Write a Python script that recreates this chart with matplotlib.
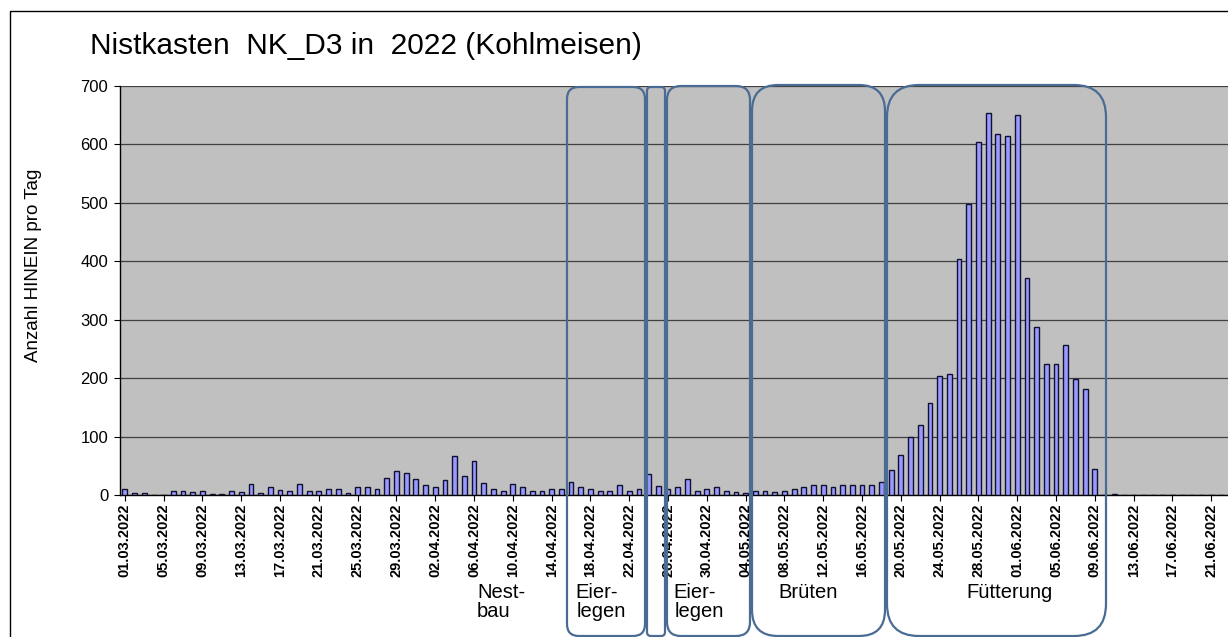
import matplotlib.pyplot as plt
from matplotlib.patches import FancyBboxPatch, Rectangle
import numpy as np
import pandas as pd

# daily counts "HINEIN" from 01.03.2022 on
values = [11, 4, 4, 0, 0, 6, 6, 5, 7, 2, 2, 7, 5, 19, 3, 13, 9, 7, 18, 7,
          7, 10, 10, 3, 14, 13, 10, 29, 41, 37, 27, 17, 14, 26, 66, 33, 59, 21, 10, 7,
          18, 14, 7, 7, 10, 10, 22, 14, 10, 7, 7, 17, 7, 10, 36, 16, 10, 14, 27, 7,
          10, 14, 6, 5, 3, 7, 7, 5, 7, 10, 14, 17, 17, 14, 17, 17, 17, 17, 23, 42,
          69, 99, 120, 157, 203, 207, 404, 498, 605, 654, 618, 615, 651, 372, 287, 225, 225, 257, 198, 181,
          44, 0, 2, 0, 0, 0, 0, 0, 0, 0, 0, 0, 0, 0, 0]
start_date = "2022-03-01"
y_ticks = [0, 100, 200, 300, 400, 500, 600, 700]

# phases: label lines
phase_labels = [["Nest-", "bau"], ["Eier-", "legen"], ["Eier-", "legen"], ["Brüten"], ["Fütterung"]]

dates = pd.date_range(start_date, periods=len(values), freq="D")
x = np.arange(len(values))

W, H = 1228, 637
fig = plt.figure(figsize=(W / 100, H / 100), dpi=100)
plt.rcParams['font.family'] = ['Liberation Sans', 'DejaVu Sans']

ax = fig.add_axes([120 / W, (H - 495) / H, 1108 / W, 409 / H])
ax.set_facecolor('#c0c0c0')
ax.bar(x, values, width=0.5, color='#9999ff', edgecolor='#101030', linewidth=1, zorder=3)
ax.set_xlim(-0.5, -0.5 + 1108 / 9.7)
ax.set_ylim(0, 700)
ax.set_yticks(y_ticks)
ax.set_yticklabels([str(v) for v in y_ticks], fontsize=12)
ax.yaxis.grid(True, color='#404040', linewidth=0.9)
ax.set_axisbelow(True)
ax.set_xticks(x[::4])
ax.set_xticklabels(dates[::4].strftime('%d.%m.%Y'), rotation=90, fontsize=10.5, fontweight='bold')
ax.tick_params(axis='x', length=4, pad=2)
ax.tick_params(axis='y', length=4.5, pad=4)
for s in ['top', 'right']:
    ax.spines[s].set_visible(False)
for s in ['left', 'bottom']:
    ax.spines[s].set_color('black')
    ax.spines[s].set_linewidth(1)
ax.set_ylabel("Anzahl HINEIN pro Tag", fontsize=13.5)
ax.yaxis.set_label_coords(-(120 - 42) / 1108, 0.5 + (290 - 265) / 409)

# overlay in pixel coords for frame, title, phase boxes
ov = fig.add_axes([0, 0, 1, 1], zorder=5)
ov.set_xlim(0, W)
ov.set_ylim(H, 0)
ov.axis('off')
ov.patch.set_alpha(0)

ov.add_patch(Rectangle((9.5, 10.5), 1300, 700, fill=False, edgecolor='black', linewidth=1))
ov.text(90, 54, "Nistkasten  NK_D3 in  2022 (Kohlmeisen)", fontsize=21.5, va='baseline', ha='left')

box_color = '#4a6b94'
boxes = [(567, 87, 645, 636, 12), (647, 87, 665, 636, 4), (667, 86, 750, 636, 14),
         (752, 85, 885, 636, 26), (887, 85, 1106, 636, 32)]
for x0, y0, x1, y1, r in boxes:
    ov.add_patch(FancyBboxPatch((x0, y0), x1 - x0, y1 - y0,
                                boxstyle=f"round,pad=0,rounding_size={r}",
                                fill=False, edgecolor=box_color, linewidth=1.6))

text_pos = [(477, 598), (575, 598), (673, 598), (778, 598), (966, 598)]
for (tx, ty), lines in zip(text_pos, phase_labels):
    for i, line in enumerate(lines):
        dx = 2 if (i == 1 and line == "legen") else 0
        ov.text(tx + dx, ty + 19 * i, line, fontsize=14.5, va='baseline', ha='left')

fig.savefig("out.png", dpi=100, facecolor='white')
